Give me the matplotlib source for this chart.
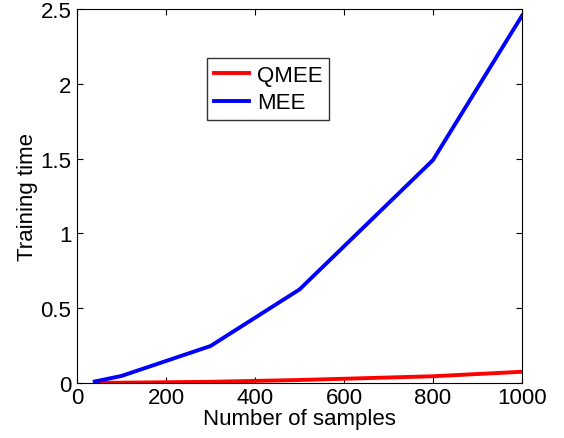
import numpy as np
import matplotlib.pyplot as plt

plt.rcParams['font.family'] = ['Liberation Sans', 'DejaVu Sans']

#### data
n_samples = [40, 100, 300, 500, 800, 1000]
qmee = [0.001, 0.002, 0.008, 0.02, 0.045, 0.075]
mee = [0.01, 0.047, 0.247, 0.625, 1.49, 2.455]

fig = plt.figure(figsize=(5.64, 4.39), dpi=100)
ax = fig.add_axes([0.1365, 0.1253, 0.789, 0.852])

ax.plot(n_samples, qmee, color='red', lw=2.8, label='QMEE')
ax.plot(n_samples, mee, color='blue', lw=2.8, label='MEE')

ax.set_xlim([0, 1000])
ax.set_ylim([0, 2.5])
ax.set_xticks(np.arange(0, 1001, 200))
ax.set_yticks([0, 0.5, 1, 1.5, 2, 2.5])
ax.set_yticklabels(['0', '0.5', '1', '1.5', '2', '2.5'])
ax.tick_params(direction='in', labelsize=16, length=4, top=True, right=True)
ax.tick_params(axis='x', pad=3)
ax.tick_params(axis='y', pad=4)
ax.set_xlabel('Number of samples', fontsize=16, labelpad=0)
ax.set_ylabel('Training time', fontsize=16, labelpad=2)

ax.legend(loc='upper left', bbox_to_anchor=(0.292, 0.869), borderaxespad=0,
          fontsize=16, frameon=True, fancybox=False, edgecolor='black',
          handlelength=1.6, borderpad=0.3, labelspacing=0.3, handletextpad=0.35)

fig.savefig('out.png', dpi=100)
